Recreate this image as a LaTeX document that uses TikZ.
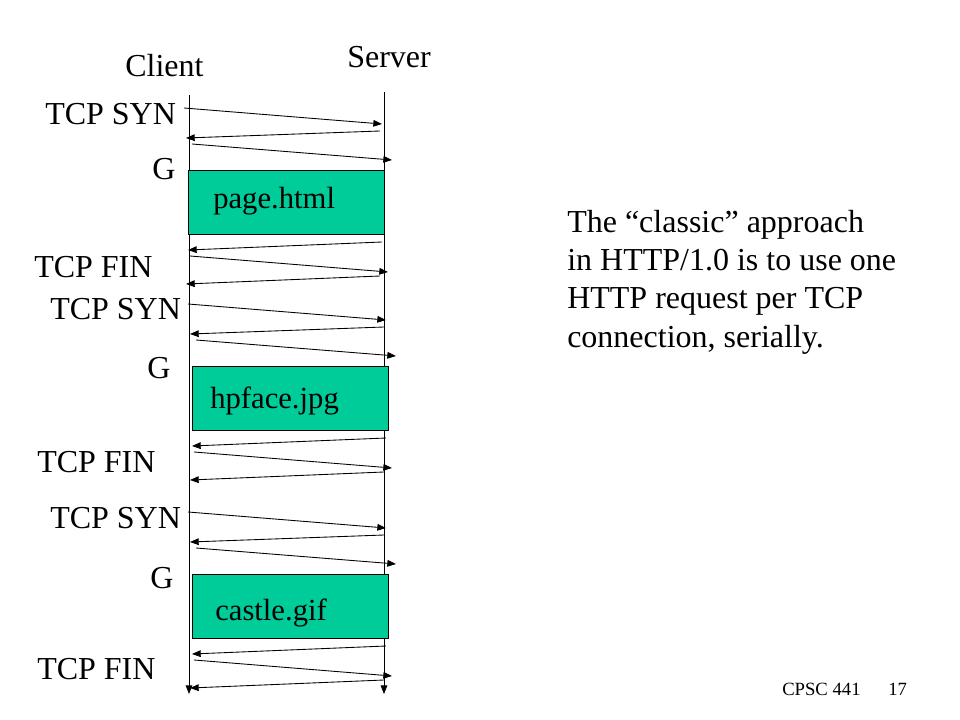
\documentclass[tikz,border=0pt]{standalone}
\usepackage{fontspec}
\setmainfont{Liberation Serif}
\usepackage{xcolor}
\usetikzlibrary{arrows.meta,positioning}
\definecolor{filegreen}{HTML}{00CC99}

\begin{document}
\begin{tikzpicture}[x=0.75pt,y=-0.75pt,
    msg/.style={-{Triangle[length=6.5pt,width=5pt]}, line width=0.65pt},
    lbl/.style={anchor=base west, inner sep=0pt, font=\fontsize{24}{26}\selectfont},
    filebox/.style={draw, line width=0.65pt, fill=filegreen}]
    \useasboundingbox (0,0) rectangle (960,720);
    % time lines
    \draw[msg] (189,95) -- (189,694);
    \draw[msg] (384,92) -- (384,694);
    \node[lbl] (client) at (125,77) {Client};
    \node[lbl] (server) at (347,68) {Server};
    % one connection per object
    \foreach \i/\xo/\yo/\file/\tx/\ty in {1/-4/108/page.html/25/101,
                                         2/0/304/hpface.jpg/18/104,
                                         3/0/512/castle.gif/23/108} {
      \begin{scope}[shift={(\xo,\yo)}]
        \draw[msg] (188,0) -- (386,16);
        \draw[msg] (384,23) -- (190,30);
        \draw[msg] (196,36) -- (396,52);
        \draw[filebox] (192,62) rectangle (388,126);
        \node[lbl, font=\fontsize{23}{26}\selectfont] (file\i) at (192+\tx,\ty) {\file};
        \draw[msg] (386,134) -- (192,142);
        \draw[msg] (194,148) -- (392,164);
        \draw[msg] (384,168) -- (190,176);
      \end{scope}
    }
    % labels on the client side
    \node[lbl] (syn1) at (45,125) {TCP SYN};
    \node[lbl] (get1) at (152,180) {G};
    \node[lbl] (fin1) at (34,277) {TCP FIN};
    \node[lbl] (syn2) at (50,320) {TCP SYN};
    \node[lbl] (get2) at (147,378) {G};
    \node[lbl] (fin2) at (37,472) {TCP FIN};
    \node[lbl] (syn3) at (50,528) {TCP SYN};
    \node[lbl] (get3) at (150,588) {G};
    \node[lbl] (fin3) at (37,679) {TCP FIN};
    % explanation (anchored at the baseline of its last line)
    \node[anchor=base west, inner sep=0pt, align=left,
          font=\fontsize{24}{28.75}\selectfont] (note) at (567,347)
      {The ``classic'' approach\\in HTTP/1.0 is to use one\\HTTP request per TCP\\connection, serially.};
    \node[anchor=base west, inner sep=0pt, font=\fontsize{14}{16}\selectfont] (course) at (782,695) {CPSC 441};
    \node[anchor=base west, inner sep=0pt, font=\fontsize{14}{16}\selectfont] (page) at (888,695) {17};
\end{tikzpicture}
\end{document}
